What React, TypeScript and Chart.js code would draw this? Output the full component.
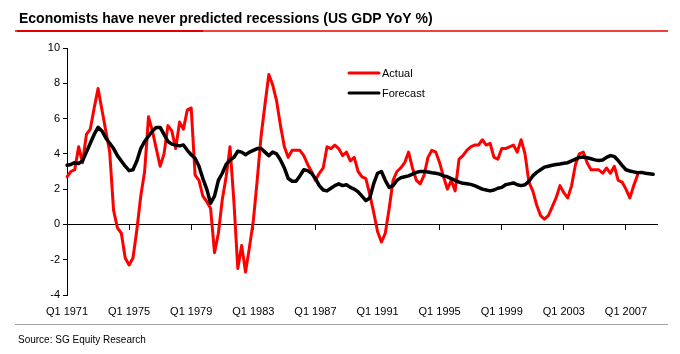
import React, { useEffect, useRef } from "react";
import { Chart, registerables } from "chart.js";

Chart.register(...registerables);

const TITLE = "Economists have never predicted recessions (US GDP YoY %)";
const SOURCE = "Source: SG Equity Research";
const SERIES_NAMES = ["Actual", "Forecast"];
const START_YEAR = 1971;
const QUARTER_COUNT = 153; // Q1 1971 .. Q1 2009
const TICK_LABELS = ["Q1 1971", "Q1 1975", "Q1 1979", "Q1 1983", "Q1 1987", "Q1 1991", "Q1 1995", "Q1 1999", "Q1 2003", "Q1 2007"];
const Y_MIN = -4;
const Y_MAX = 10;
const Y_STEP = 2;

const QUARTERS: string[] = [];
for (let k = 0; k < QUARTER_COUNT; k++) {
  QUARTERS.push(`Q${(k % 4) + 1} ${START_YEAR + Math.floor(k / 4)}`);
}

// Actual US GDP YoY %, Q1 1971 .. Q4 2007
const ACTUAL = [
  2.7, 3.0, 3.1, 4.4, 3.5, 5.1, 5.4, 6.6, 7.7, 6.5, // 1971-73
  5.3, 4.1, 0.8, -0.2, -0.5, -1.9, -2.3, -1.9, -0.3, 1.6, // 1973-75
  3.0, 6.1, 5.3, 4.3, 3.3, 4.0, 5.6, 5.3, 4.3, 5.8, // 1976-78
  5.4, 6.5, 6.6, 2.8, 2.5, 1.6, 1.3, 0.9, -1.6, -0.5, // 1978-80
  1.4, 2.7, 4.4, 1.3, -2.5, -1.2, -2.7, -1.3, 0.2, 2.5, // 1981-83
  5.0, 6.8, 8.5, 7.9, 7.0, 5.6, 4.4, 3.8, 4.2, 4.2, // 1983-85
  4.2, 3.9, 3.4, 3.0, 2.5, 2.9, 3.2, 4.4, 4.3, 4.5, // 1986-88
  4.3, 3.9, 4.1, 3.6, 3.8, 3.0, 2.7, 2.6, 1.7, 0.7, // 1988-90
  -0.4, -1.0, -0.5, 0.9, 2.5, 3.0, 3.2, 3.5, 4.1, 3.2, // 1991-93
  2.5, 2.3, 2.8, 3.8, 4.2, 4.1, 3.5, 2.7, 2.0, 2.5, // 1993-95
  1.9, 3.7, 3.9, 4.2, 4.4, 4.5, 4.5, 4.8, 4.5, 4.6, // 1996-98
  3.8, 3.7, 4.3, 4.3, 4.4, 4.5, 4.1, 4.8, 4.0, 2.4, // 1998-2000
  1.9, 1.1, 0.5, 0.3, 0.5, 1.0, 1.5, 2.2, 1.8, 1.5, // 2001-03
  2.2, 3.4, 4.0, 4.1, 3.5, 3.1, 3.1, 3.1, 2.9, 3.2, // 2003-05
  2.9, 3.3, 2.5, 2.4, 2.0, 1.5, 2.2, 2.8, // 2006-07
];

// Consensus forecast %, Q1 1971 .. Q4 2008
const FORECAST = [
  3.35, 3.4, 3.5, 3.45, 3.6, 4.1, 4.6, 5.1, 5.5, 5.3,
  4.9, 4.6, 4.3, 3.9, 3.6, 3.3, 3.05, 3.1, 3.6, 4.3,
  4.7, 5.0, 5.3, 5.5, 5.5, 5.1, 4.7, 4.55, 4.5, 4.45,
  4.5, 4.2, 3.95, 3.75, 3.3, 2.6, 2.0, 1.2, 1.6, 2.5,
  2.9, 3.4, 3.65, 3.8, 4.15, 4.1, 3.95, 4.1, 4.2, 4.3,
  4.3, 4.1, 3.9, 4.1, 4.0, 3.65, 3.2, 2.6, 2.45, 2.45,
  2.75, 3.1, 3.05, 2.9, 2.6, 2.2, 1.95, 1.9, 2.05, 2.2,
  2.3, 2.2, 2.25, 2.1, 2.0, 1.85, 1.6, 1.35, 1.5, 2.3,
  2.9, 3.0, 2.5, 2.1, 2.2, 2.5, 2.65, 2.7, 2.75, 2.85,
  2.95, 3.0, 3.0, 2.97, 2.93, 2.9, 2.85, 2.75, 2.7, 2.6,
  2.5, 2.4, 2.33, 2.3, 2.27, 2.2, 2.1, 2.0, 1.95, 1.9,
  1.95, 2.05, 2.1, 2.25, 2.3, 2.35, 2.25, 2.2, 2.25, 2.45,
  2.75, 2.95, 3.1, 3.25, 3.3, 3.35, 3.4, 3.43, 3.47, 3.5,
  3.6, 3.7, 3.8, 3.82, 3.78, 3.72, 3.66, 3.62, 3.65, 3.8,
  3.9, 3.85, 3.62, 3.35, 3.1, 3.03, 2.98, 2.93, 2.95, 2.9,
  2.87, 2.84,
];

const COLORS = ["#ff0000", "#000000"];
const FONT = '"Liberation Sans", Arial, Helvetica, sans-serif';

const decorPlugin = {
  id: "decor",
  afterDraw(chart: any) {
    const ctx = chart.ctx as CanvasRenderingContext2D;
    ctx.save();
    // title
    ctx.fillStyle = "#000";
    ctx.font = `bold 14px ${FONT}`;
    ctx.textBaseline = "alphabetic";
    ctx.textAlign = "left";
    ctx.fillText(TITLE, 19, 23);
    // red rule under title
    ctx.fillStyle = "#f04040";
    ctx.fillRect(15, 30, 653, 2);
    ctx.fillStyle = "#e50000";
    ctx.fillRect(17, 30, 186, 2);
    // legend
    const ds = chart.data.datasets;
    ctx.font = `11px ${FONT}`;
    ctx.textBaseline = "middle";
    const legendY = [73, 93];
    ds.forEach((d: any, k: number) => {
      ctx.strokeStyle = d.borderColor;
      ctx.lineWidth = 3;
      ctx.lineCap = "round";
      ctx.beginPath();
      ctx.moveTo(349, legendY[k]);
      ctx.lineTo(379, legendY[k]);
      ctx.stroke();
      ctx.fillStyle = "#000";
      ctx.fillText(d.label, 382, legendY[k] + 1);
    });
    // source rule + text
    ctx.fillStyle = "#a0a0a0";
    ctx.fillRect(15, 324, 653, 1);
    ctx.fillStyle = "#000";
    ctx.font = `10px ${FONT}`;
    ctx.textBaseline = "alphabetic";
    ctx.fillText(SOURCE, 18, 343);
    ctx.restore();
  },
};

export default function App() {
  const ref = useRef<HTMLCanvasElement | null>(null);
  useEffect(() => {
    if (!ref.current) return;
    const chart = new Chart(ref.current, {
      type: "line",
      data: {
        labels: QUARTERS,
        datasets: [
          {
            label: SERIES_NAMES[0],
            data: ACTUAL,
            borderColor: COLORS[0],
            backgroundColor: COLORS[0],
            borderWidth: 3,
            pointRadius: 0,
            tension: 0,
            borderJoinStyle: "round",
            borderCapStyle: "round",
            xAxisID: "x",
            yAxisID: "y",
            order: 1,
          },
          {
            label: SERIES_NAMES[1],
            data: FORECAST,
            borderColor: COLORS[1],
            backgroundColor: COLORS[1],
            borderWidth: 3.5,
            pointRadius: 0,
            tension: 0,
            borderJoinStyle: "round",
            borderCapStyle: "round",
            xAxisID: "x",
            yAxisID: "y",
            order: 0,
          },
        ],
      },
      options: {
        responsive: false,
        animation: false,
        events: [],
        layout: { padding: { top: 48, right: 23, left: 0, bottom: 0 } },
        plugins: { legend: { display: false }, tooltip: { enabled: false }, title: { display: false } },
        scales: {
          x: {
            type: "category",
            position: "bottom",
            offset: false,
            grid: { display: false, drawTicks: false },
            border: { display: false },
            afterFit: (s: any) => { s.height = 59; },
            ticks: {
              autoSkip: false,
              maxRotation: 0,
              minRotation: 0,
              padding: 10,
              color: "#000",
              font: { family: FONT, size: 11 },
              callback: function (this: any, v: any) {
                const lab = this.getLabelForValue(v);
                return TICK_LABELS.includes(lab) ? lab : null;
              },
            },
          },
          x2: {
            type: "category",
            axis: "x",
            position: { y: 0 },
            offset: false,
            grid: { display: true, drawOnChartArea: false, drawTicks: true, tickLength: 5, color: "#000", lineWidth: 1 },
            border: { display: true, color: "#000", width: 1 },
            ticks: {
              autoSkip: false,
              maxRotation: 0,
              minRotation: 0,
              color: "rgba(0,0,0,0)",
              font: { size: 1 },
              callback: function (this: any, v: any, idx: number) {
                const lab = this.getLabelForValue(v);
                return TICK_LABELS.includes(lab) && idx !== 0 ? "" : null;
              },
            },
          },
          y: {
            type: "linear",
            position: "left",
            min: Y_MIN,
            max: Y_MAX,
            afterFit: (s: any) => { s.width = 67; },
            grid: { display: true, drawOnChartArea: false, drawTicks: true, tickLength: 4, color: "#000", lineWidth: 1 },
            border: { display: true, color: "#000", width: 1 },
            ticks: {
              stepSize: Y_STEP,
              padding: 3,
              color: "#000",
              font: { family: FONT, size: 11 },
            },
          },
        },
      },
      plugins: [decorPlugin],
    } as any);
    return () => chart.destroy();
  }, []);
  return (
    <div style={{ position: "fixed", left: 0, top: 0, width: 680, height: 354, background: "#fff" }}>
      <canvas ref={ref} width={680} height={354} style={{ display: "block" }} />
    </div>
  );
}
